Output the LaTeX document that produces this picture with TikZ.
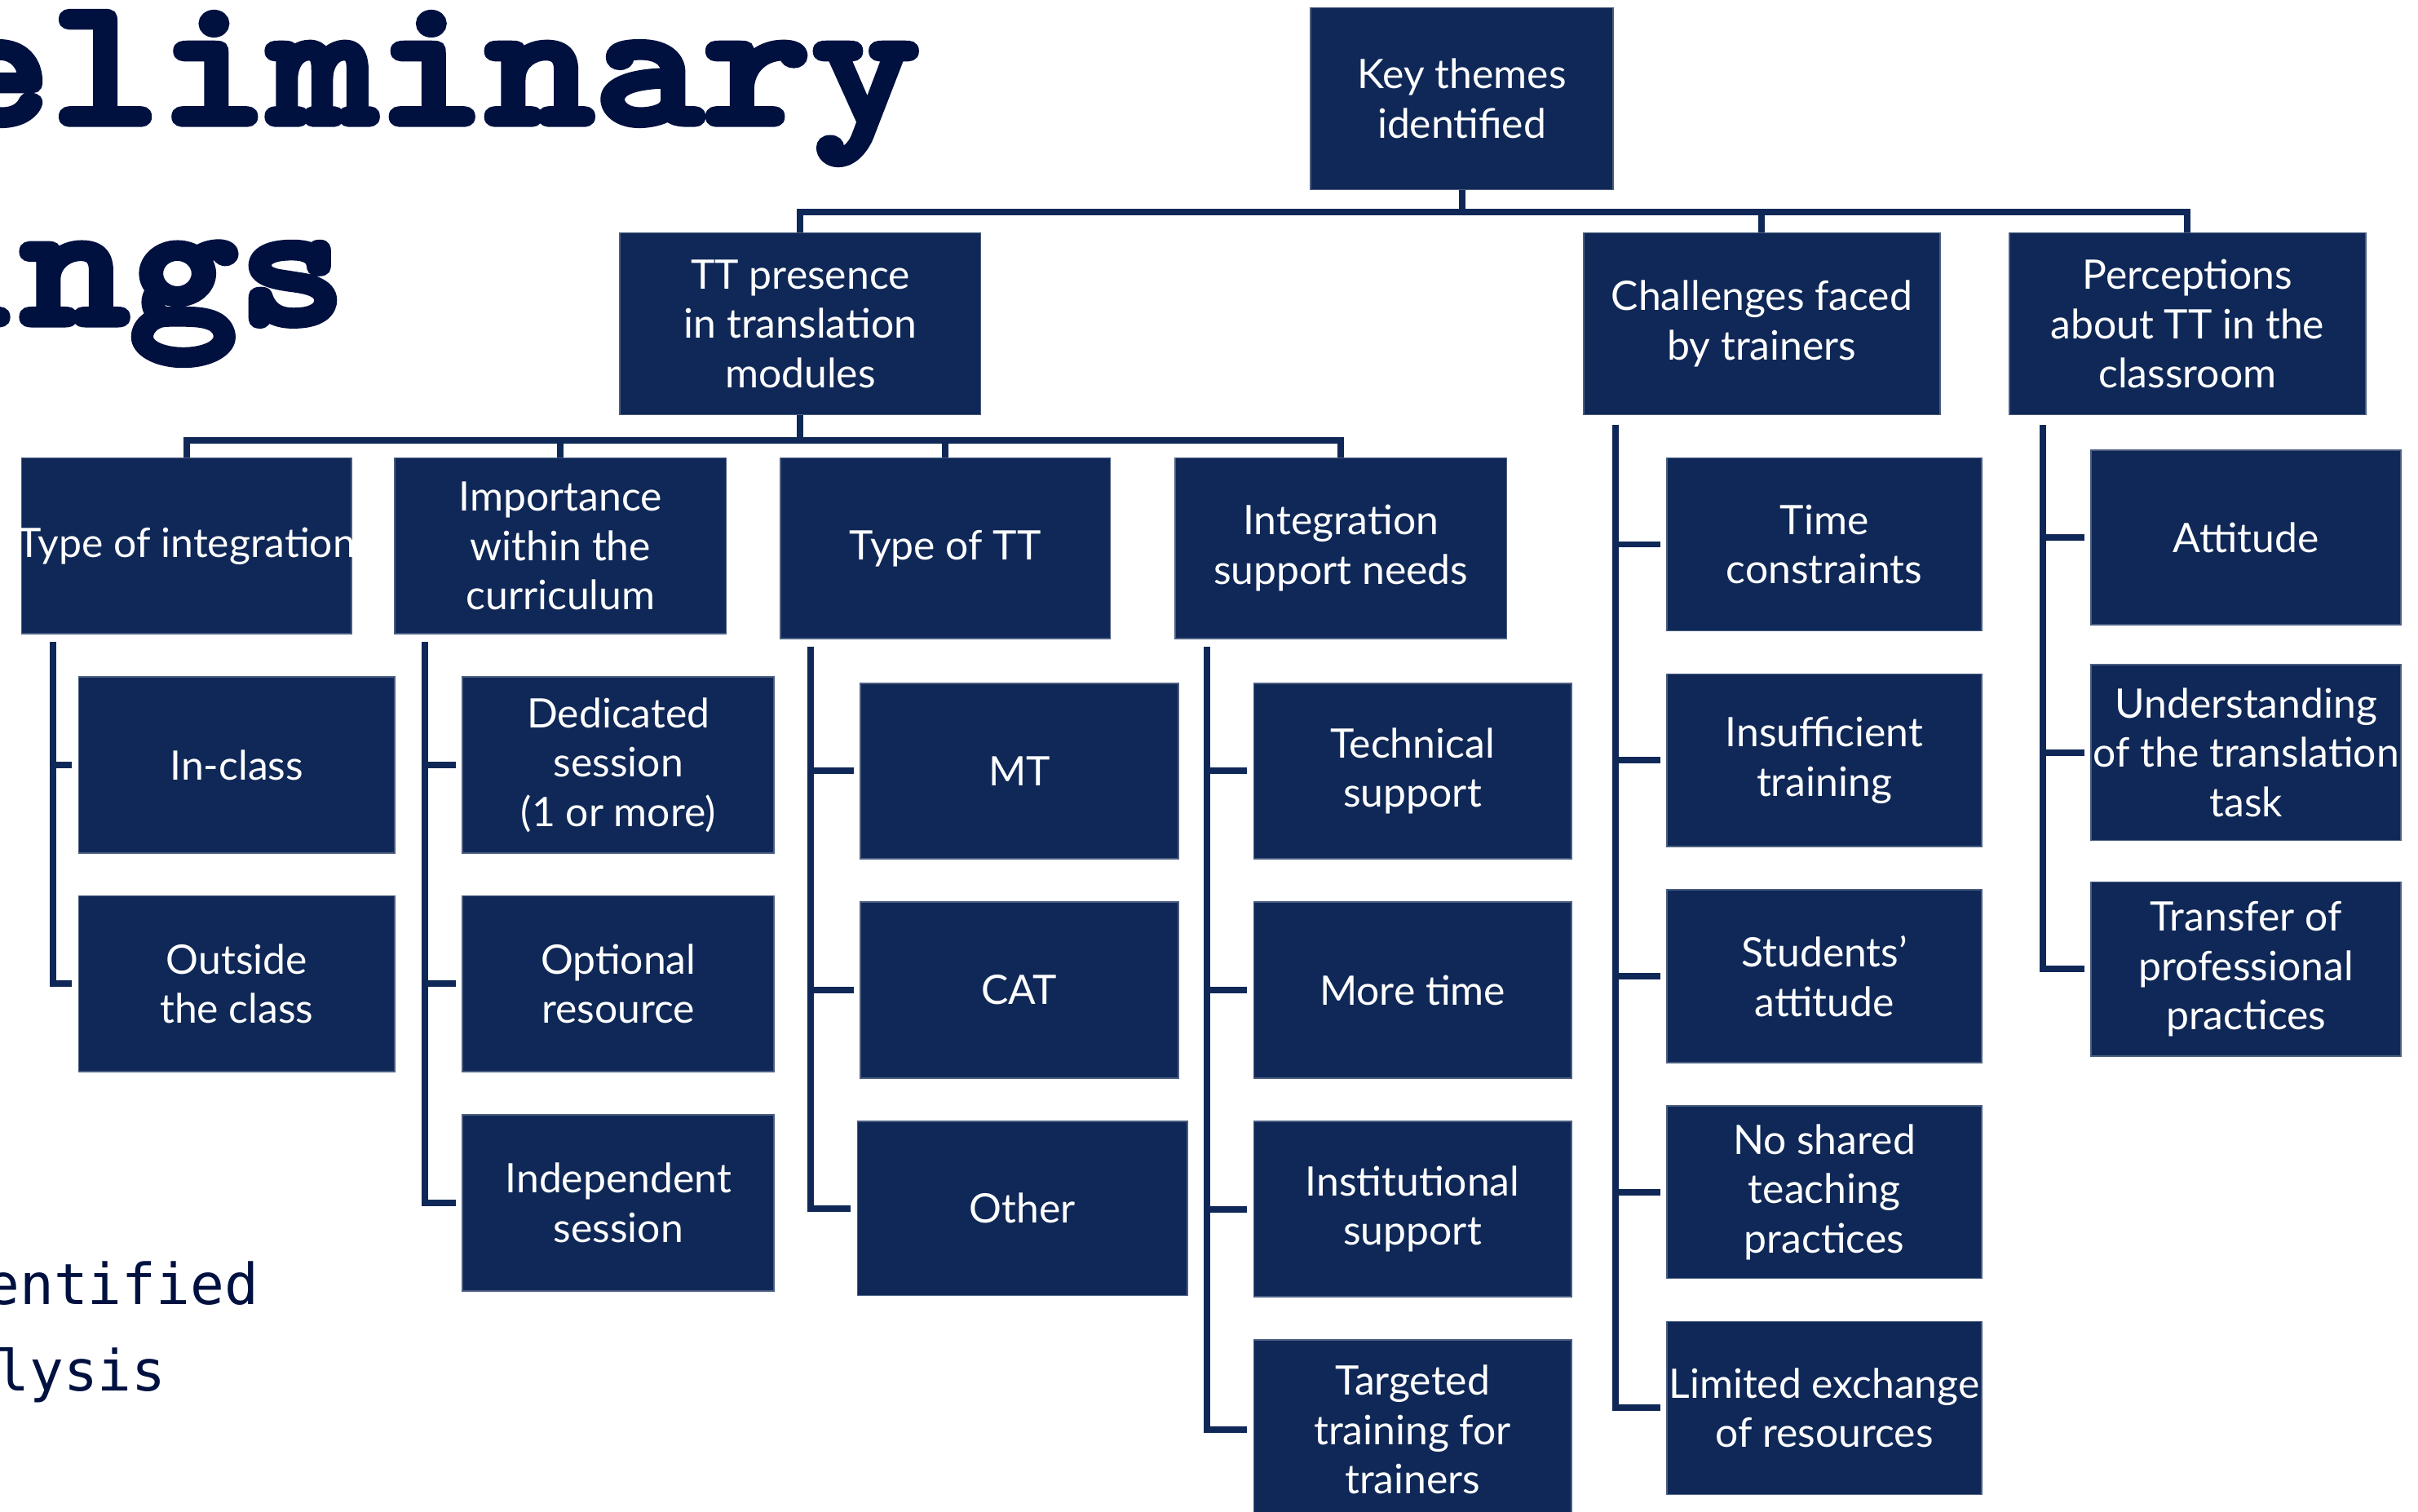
\documentclass[tikz,border=0pt]{standalone}
\usepackage{fontspec}
\setmainfont{Lato}
\newfontfamily\boxfont{Lato}
\newfontfamily\titlefont[FakeBold=4,FakeStretch=1.14]{lmmonolt10-bold.otf}
\newfontfamily\bodymono{DejaVu Sans Mono}
\usetikzlibrary{calc}
\definecolor{navy}{RGB}{15,40,87}
\definecolor{ink}{RGB}{0,17,64}
\tikzset{
  bx/.style={fill=navy, draw=navy!75!white, line width=0.5pt, text=white, align=center,
    inner sep=0pt, font=\boxfont\fontsize{15}{18.2}\selectfont},
  conn/.style={draw=navy, line width=2.4pt},
  titletxt/.style={anchor=base east, text=ink, inner sep=0pt, font=\titlefont\fontsize{67}{66}\selectfont},
  bodytxt/.style={anchor=base east, text=ink, inner sep=0pt, font=\bodymono\fontsize{20.9}{26}\selectfont}
}
\newcommand\bx[6]{\node[bx, minimum width={0.02cm*(#4-#2)}, minimum height={0.02cm*(#5-#3)}] (#1) at ({(#2+#4)/2},{(#3+#5)/2}) {#6};}
\begin{document}
\begin{tikzpicture}[x=0.02cm, y=-0.02cm]
\useasboundingbox (0,0) rectangle (1568,980);
\clip (0,0) rectangle (1568,980);

% title and body text
\node[titletxt] (t1) at (597,80) {eliminary};
\node[titletxt] (t2) at (225,210) {ings};
\node[bodytxt] (b1) at (168,846) {entified};
\node[bodytxt] (b2) at (108,902) {lysis};

% level 0/1
\bx{key}{850}{5}{1046}{123}{Key themes\\identified}
\bx{tt}{402}{151}{636}{269}{TT presence\\in translation\\modules}
\bx{ch}{1027}{151}{1258}{269}{Challenges faced\\by trainers}
\bx{pe}{1303}{151}{1534}{269}{Perceptions\\about TT in the\\classroom}

% level 2
\bx{ti}{14}{297}{228}{411}{\makebox[0pt]{Type of integration}}
\bx{im}{256}{297}{471}{411}{Importance\\within the\\curriculum}
\bx{ty}{506}{297}{720}{414}{Type of TT}
\bx{is}{762}{297}{977}{414}{Integration\\support needs}

\bx{inc}{51}{439}{256}{553}{In-class}
\bx{out}{51}{581}{256}{695}{Outside\\the class}
\bx{ded}{300}{439}{502}{553}{Dedicated\\session\\(1 or more)}
\bx{opt}{300}{581}{502}{695}{Optional\\resource}
\bx{ind}{300}{723}{502}{837}{Independent\\session}
\bx{mt}{558}{443}{764}{557}{MT}
\bx{cat}{558}{585}{764}{699}{CAT}
\bx{oth}{556}{727}{770}{840}{Other}
\bx{tec}{813}{443}{1019}{557}{Technical\\support}
\bx{mor}{813}{585}{1019}{699}{More time}
\bx{ins}{813}{727}{1019}{841}{Institutional\\support}
\bx{tar}{813}{869}{1019}{985}{Targeted\\training for\\trainers}

\bx{tc}{1081}{297}{1285}{409}{Time\\constraints}
\bx{it}{1081}{437}{1285}{549}{Insufficient\\training}
\bx{sa}{1081}{577}{1285}{689}{Students’\\attitude}
\bx{ns}{1081}{717}{1285}{829}{No shared\\teaching\\practices}
\bx{le}{1081}{857}{1285}{969}{\makebox[0pt]{Limited exchange}\\of resources}

\bx{at}{1356}{292}{1557}{405}{Attitude}
\bx{un}{1356}{431}{1557}{545}{Understanding\\\makebox[0pt]{of the translation}\\task}
\bx{tr}{1356}{572}{1557}{685}{Transfer of\\professional\\practices}

% top bus
\foreach \c in {tt,ch,pe} \draw[conn] (key.south) -- ++(0,14) -| (\c.north);
% TT presence bus
\foreach \c in {ti,im,ty,is} \draw[conn] (tt.south) -- ++(0,16) -| (\c.north);

% side spines
\foreach \c in {inc,out} \draw[conn] ($(ti.south west)+(21,5)$) |- ($(\c.west)+(-4,0)$);
\foreach \c in {ded,opt,ind} \draw[conn] ($(im.south west)+(20,5)$) |- ($(\c.west)+(-4,0)$);
\foreach \c in {mt,cat,oth} \draw[conn] ($(ty.south west)+(20,5)$) |- ($(\c.west)+(-4,0)$);
\foreach \c in {tec,mor,ins,tar} \draw[conn] ($(is.south west)+(21,5)$) |- ($(\c.west)+(-4,0)$);
\foreach \c in {tc,it,sa,ns,le} \draw[conn] ($(ch.south west)+(21,6)$) |- ($(\c.west)+(-4,0)$);
\foreach \c in {at,un,tr} \draw[conn] ($(pe.south west)+(22,6)$) |- ($(\c.west)+(-4,0)$);
\end{tikzpicture}
\end{document}
